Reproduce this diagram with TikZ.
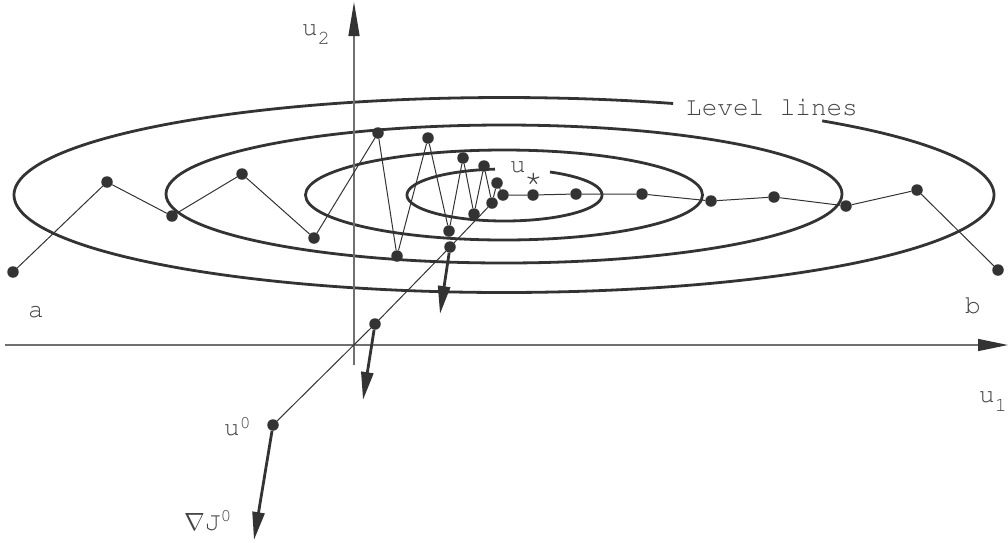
\documentclass[tikz,border=0pt]{standalone}
\usepackage[T1]{fontenc}
\usepackage{courier}
\usetikzlibrary{arrows.meta}
\definecolor{ink}{HTML}{333333}
\definecolor{axisgray}{HTML}{707070}
\definecolor{txt}{HTML}{444444}
\begin{document}
\begin{tikzpicture}[x=1pt,y=-1pt,
  dot/.style={circle,fill=ink,inner sep=0pt,minimum size=11.5pt},
  level/.style={draw=ink,line width=2.8pt},
  iter/.style={draw=ink,line width=1pt},
  axis/.style={draw=axisgray,line width=1.4pt},
  grad/.style={draw=ink,line width=2.8pt,-{Triangle[length=28pt,width=12pt]}},
  lab/.style={text=txt,font=\fontsize{26}{28}\selectfont\ttfamily,inner sep=0pt,anchor=base west}]
\useasboundingbox (0,0) rectangle (1008,542);
% level lines
\draw[level] plot[domain=-49.5:290.2, samples=240, variable=\t] ({504+490*cos(\t)}, {195+97.5*sin(\t)});
\draw[level] (504,194) ellipse [x radius=338, y radius=69];
\draw[level] (504,195) ellipse [x radius=198.5, y radius=45];
\draw[level] plot[domain=-62.2:264.4, samples=160, variable=\t] ({504.5+97.5*cos(\t)}, {195+26*sin(\t)});
% axes
\coordinate (xs) at (5,345);
\coordinate (xe) at (1008,345);
\coordinate (ys) at (354,365);
\coordinate (ye) at (354,2);
\draw[axis,-{Triangle[length=30pt,width=12pt,color=ink,fill=ink]}] (xs) -- (xe);
\draw[axis,-{Triangle[length=34pt,width=11pt,color=ink,fill=ink]}] (ys) -- (ye);
% iteration points
\node[dot] (p1) at (13,272) {};
\node[dot] (p2) at (107,182) {};
\node[dot] (p3) at (172,216) {};
\node[dot] (p4) at (242,174) {};
\node[dot] (p5) at (314,238) {};
\node[dot] (p6) at (378,133) {};
\node[dot] (p7) at (397,256) {};
\node[dot] (p8) at (428,138) {};
\node[dot] (p9) at (449,231) {};
\node[dot] (p10) at (463,158) {};
\node[dot] (p11) at (474,214) {};
\node[dot] (p12) at (484,166) {};
\node[dot] (p13) at (492,203) {};
\node[dot] (p14) at (497,183) {};
\node[dot] (p15) at (503,195) {};
\node[dot] (p16) at (533,195) {};
\node[dot] (p17) at (576,194) {};
\node[dot] (p18) at (642,194) {};
\node[dot] (p19) at (711,201) {};
\node[dot] (p20) at (774,197) {};
\node[dot] (p21) at (846,206) {};
\node[dot] (p22) at (917,190) {};
\node[dot] (p23) at (998,270) {};
\draw[iter] (p1) -- (p2) -- (p3) -- (p4) -- (p5) -- (p6) -- (p7) -- (p8) -- (p9) -- (p10) -- (p11) -- (p12) -- (p13) -- (p14) -- (p15) -- (p16) -- (p17) -- (p18) -- (p19) -- (p20) -- (p21) -- (p22) -- (p23);
% steepest descent line
\node[dot] (u0) at (273,425) {};
\node[dot] (g1) at (375,324) {};
\node[dot] (g2) at (450,247) {};
\draw[iter] (u0) -- (g1) -- (g2) -- (p13);
\coordinate (t0) at (254,540);
\coordinate (t1) at (363,400);
\coordinate (t2) at (440,314);
\draw[grad] (u0) -- (t0);
\draw[grad] (g1) -- (t1);
\draw[grad] (g2) -- (t2);
% labels
\node[lab] (lvl) at (686,115) {Level lines};
\node[lab] (ustar) at (510,172) {u\kern-2pt\raisebox{-15pt}{\fontsize{32}{32}\selectfont *}};
\node[lab] (u2) at (302,35) {u\raisebox{-9pt}{\fontsize{20}{20}\selectfont 2}};
\node[lab] (u1) at (979,402) {u\raisebox{-9pt}{\fontsize{20}{20}\selectfont 1}};
\node[lab] (la) at (28,317) {a};
\node[lab] (lb) at (965,313) {b};
\node[lab] (lu0) at (224,435) {u\raisebox{7pt}{\fontsize{18}{18}\selectfont 0}};
\node[lab] (lgrad) at (184,530) {$\nabla$J\raisebox{9pt}{\fontsize{18}{18}\selectfont 0}};
\end{tikzpicture}
\end{document}
